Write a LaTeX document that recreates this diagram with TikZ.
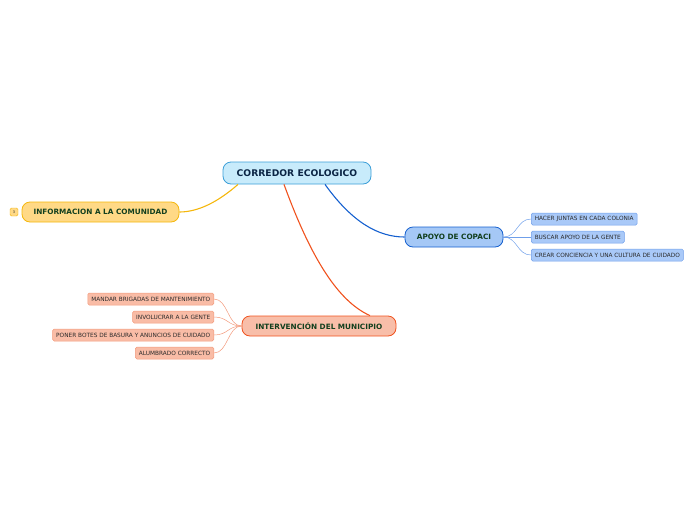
\documentclass[tikz,border=0pt]{standalone}
\usepackage{fontspec}
\setmainfont{DejaVu Sans}
\definecolor{mainfill}{HTML}{C8EBFB}
\definecolor{mainline}{HTML}{3C9FD8}
\definecolor{mainink}{HTML}{0B2545}
\definecolor{infofill}{HTML}{FFD986}
\definecolor{infoline}{HTML}{F5B70C}
\definecolor{apoyofill}{HTML}{A5C8F6}
\definecolor{apoyoline}{HTML}{1560CF}
\definecolor{apoyokid}{HTML}{A9C9F8}
\definecolor{apoyokidline}{HTML}{6F9FEA}
\definecolor{munifill}{HTML}{F8BEA9}
\definecolor{muniline}{HTML}{F0531F}
\definecolor{munikid}{HTML}{F9BCA6}
\definecolor{munikidline}{HTML}{F39A7C}
\definecolor{branchink}{HTML}{123F1E}
\definecolor{kidink}{HTML}{2A2A2A}
\begin{document}
\begin{tikzpicture}[x=1pt,y=-1pt,
  topic/.style={draw=mainline, fill=mainfill, rounded corners=8pt, line width=0.8pt,
    minimum width=148pt, minimum height=22pt, inner sep=0pt,
    font=\fontsize{9.2}{10}\selectfont\bfseries, text=mainink},
  branch/.style={rounded corners=8pt, line width=0.8pt, minimum height=20pt, inner sep=0pt,
    font=\fontsize{7.3}{8}\selectfont\bfseries, text=branchink},
  kid/.style={rounded corners=1.5pt, line width=0.5pt, minimum height=12pt, inner xsep=3.5pt,
    inner ysep=0pt, font=\fontsize{5.8}{6}\selectfont, text=kidink},
  link/.style={line width=1.1pt},
  sublink/.style={line width=0.5pt}]
\useasboundingbox (0,0) rectangle (696,520);

% central topic
\node[topic] (main) at (297,173) {CORREDOR ECOLOGICO};

% --- main branches ---
\node[branch, draw=infoline, fill=infofill, minimum width=157pt] (info) at (100.5,212) {INFORMACION A LA COMUNIDAD};
\node[draw=infoline, fill=infofill, rounded corners=1.5pt, line width=0.4pt, minimum size=8pt,
  inner sep=0pt, font=\fontsize{3.5}{4}\selectfont, text=kidink] (count) at (14,212) {3};
\node[branch, draw=apoyoline, fill=apoyofill, minimum width=98pt] (apoyo) at (454,237) {APOYO DE COPACI};
\node[branch, draw=muniline, fill=munifill, minimum width=154pt] (muni) at (319,326) {INTERVENCIÓN DEL MUNICIPIO};

\draw[link, infoline] ([xshift=-59pt]main.south) .. controls (218,202) and (198,212) .. (info.east);
\draw[link, apoyoline] ([xshift=28pt]main.south) .. controls (352,222) and (378,237) .. (apoyo.west);
\draw[link, muniline] ([xshift=-13pt]main.south) .. controls (308,250) and (335,300) .. ([xshift=51pt]muni.north);

% --- APOYO DE COPACI ---
\node[kid, draw=apoyokidline, fill=apoyokid, anchor=west] (a1) at (531,219) {HACER JUNTAS EN CADA COLONIA};
\node[kid, draw=apoyokidline, fill=apoyokid, anchor=west] (a2) at (531,237) {BUSCAR APOYO DE LA GENTE};
\node[kid, draw=apoyokidline, fill=apoyokid, anchor=west] (a3) at (531,255) {CREAR CONCIENCIA Y UNA CULTURA DE CUIDADO};
\foreach \k in {a1,a2,a3}
  \draw[sublink, apoyokidline] (apoyo.east) .. controls +(14,0) and +(-14,0) .. (\k.west);

% --- INTERVENCION DEL MUNICIPIO ---
\node[kid, draw=munikidline, fill=munikid, anchor=east] (m1) at (214,299) {MANDAR BRIGADAS DE MANTENIMIENTO};
\node[kid, draw=munikidline, fill=munikid, anchor=east] (m2) at (214,317) {INVOLUCRAR A LA GENTE};
\node[kid, draw=munikidline, fill=munikid, anchor=east] (m3) at (214,335) {PONER BOTES DE BASURA Y ANUNCIOS DE CUIDADO};
\node[kid, draw=munikidline, fill=munikid, anchor=east] (m4) at (214,353) {ALUMBRADO CORRECTO};
\foreach \k in {m1,m2,m3,m4}
  \draw[sublink, munikidline] (muni.west) .. controls +(-14,0) and +(14,0) .. (\k.east);
\end{tikzpicture}
\end{document}
